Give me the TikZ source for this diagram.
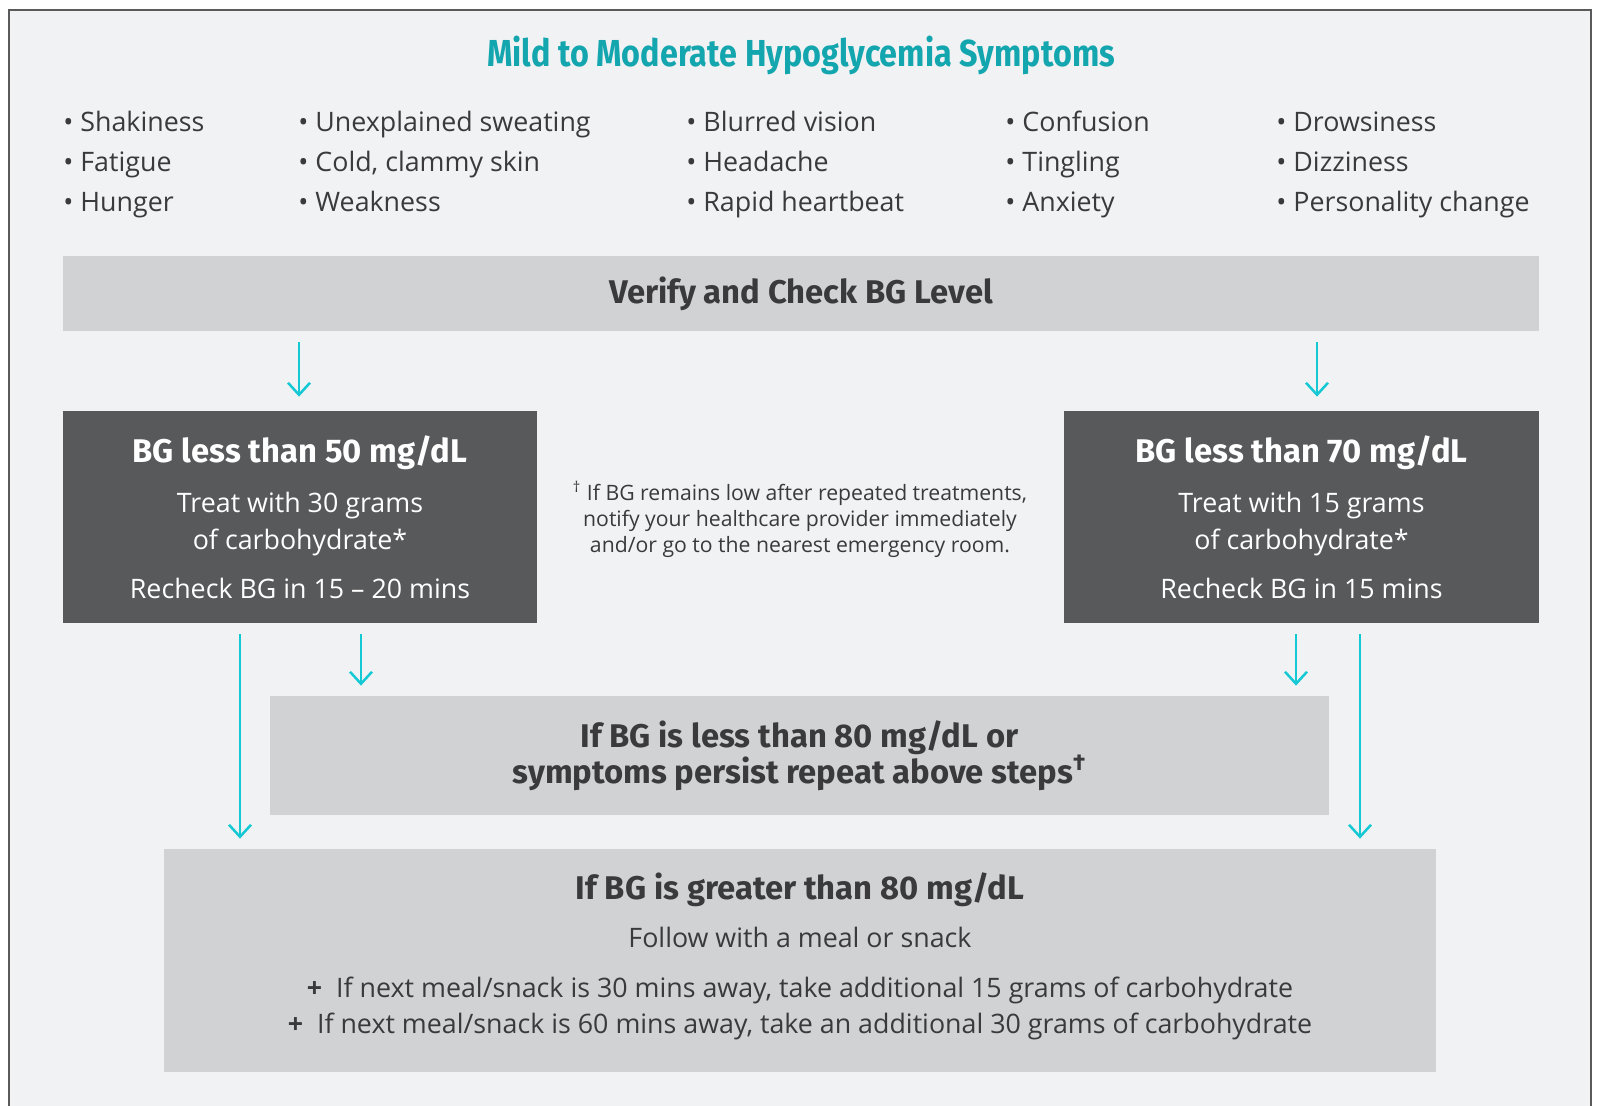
\documentclass[tikz,border=0pt]{standalone}
\usepackage{fontspec}
\setmainfont{Open Sans}
\newfontfamily\titrefont[FakeStretch=0.86]{Fira Sans}
\newfontfamily\grasfont{Fira Sans}
\usetikzlibrary{arrows.meta}

\definecolor{colorFond}{HTML}{F1F2F4}
\definecolor{colorGris}{HTML}{D1D2D4}
\definecolor{colorSombre}{HTML}{58595B}
\definecolor{colorTexte}{HTML}{3A3A3C}
\definecolor{colorFleche}{HTML}{14C8D4}
\definecolor{colorTitre}{HTML}{14A6AE}
\definecolor{colorCadre}{HTML}{5A5A5A}
\def\colorFond{colorFond}
\def\colorGris{colorGris}
\def\colorSombre{colorSombre}
\def\colorTexte{colorTexte}
\def\colorFleche{colorFleche}
\def\colorTitre{colorTitre}
\def\colorCadre{colorCadre}

\newcommand{\titregras}{\grasfont\bfseries\fontsize{16.4pt}{18pt}\selectfont}

\begin{document}
\begin{tikzpicture}[x = 0.5pt , y = -0.5pt ,
    boiteClaire/.style = {draw = none , fill = \colorGris , inner sep = 0pt , align = center , text = \colorTexte ,
        font = \fontsize{13.4pt}{18pt}\selectfont},
    boiteSombre/.style = {draw = none , fill = \colorSombre , inner sep = 0pt , align = center , text = white ,
        font = \fontsize{13.4pt}{18.5pt}\selectfont},
    liste/.style = {anchor = west , inner sep = 0pt , align = left , text = \colorTexte ,
        font = \fontsize{13.4pt}{20pt}\selectfont},
    fleche/.style = {line width = 1.25pt , color = \colorFleche , -{Straight Barb[length=6pt , width=11pt]} ,
        shorten <= 5.5pt , shorten >= 5pt}
]

    % Cadre
    \clip (0,0) rectangle (1598,1105);
    \fill[white] (0,0) rectangle (1598,1105);
    \draw[fill = \colorFond , draw = \colorCadre , line width = 0.75pt] (9,10) rectangle (1591,1120);

    % Titre
    \node[inner sep = 0pt , text = \colorTitre] (titre) at (801,55)
        {\titrefont\bfseries\fontsize{18.8pt}{20pt}\selectfont Mild to Moderate Hypoglycemia Symptoms};

    % Symptomes
    \node[liste] (colA) at (63,163) {\strut• Shakiness\\• Fatigue\\• Hunger\strut};
    \node[liste] (colB) at (298,163) {\strut• Unexplained sweating\\• Cold, clammy skin\\• Weakness\strut};
    \node[liste] (colC) at (686,163) {\strut• Blurred vision\\• Headache\\• Rapid heartbeat\strut};
    \node[liste] (colD) at (1005,163) {\strut• Confusion\\• Tingling\\• Anxiety\strut};
    \node[liste] (colE) at (1276,163) {\strut• Drowsiness\\• Dizziness\\• Personality change\strut};

    % Boites
    \node[boiteClaire , minimum width = 738pt , minimum height = 37.5pt] (verif) at (801,293.5)
        {\titregras Verify and Check BG Level};

    \node[boiteSombre , minimum width = 237pt , minimum height = 106pt] (basA) at (300,517)
        {{\titregras BG less than 50 mg/dL}\\[6.5pt]
        Treat with 30 grams\\
        of carbohydrate*\\[6pt]
        Recheck BG in 15 – 20 mins};

    \node[boiteSombre , minimum width = 237.5pt , minimum height = 106pt] (basB) at (1301.5,517)
        {{\titregras BG less than 70 mg/dL}\\[6.5pt]
        Treat with 15 grams\\
        of carbohydrate*\\[6pt]
        Recheck BG in 15 mins};

    \node[inner sep = 0pt , align = center , text = \colorTexte , font = \fontsize{10.6pt}{13pt}\selectfont] (note) at (800,519)
        {\textsuperscript{†} If BG remains low after repeated treatments,\\
        notify your healthcare provider immediately\\
        and/or go to the nearest emergency room.};

    \node[boiteClaire , minimum width = 529.5pt , minimum height = 59.5pt] (repete) at (799.5,755.5)
        {\titregras If BG is less than 80 mg/dL or\\
        \titregras symptoms persist repeat above steps\textsuperscript{†}};

    \node[boiteClaire , minimum width = 636pt , minimum height = 111.5pt] (haut) at (800,960.5)
        {{\titregras If BG is greater than 80 mg/dL}\\[6pt]
        Follow with a meal or snack\\[7pt]
        {\bfseries +}\ \ If next meal/snack is 30 mins away, take additional 15 grams of carbohydrate\\
        {\bfseries +}\ \ If next meal/snack is 60 mins away, take an additional 30 grams of carbohydrate\\[-11pt]
        \mbox{}};

    % Fleches
    \draw[fleche , shorten >= 7pt] (verif.south -| 299,0) -- (basA.north -| 299,0);
    \draw[fleche , shorten >= 7pt] (verif.south -| 1317,0) -- (basB.north -| 1317,0);
    \draw[fleche] (basA.south -| 240,0) -- (haut.north -| 240,0);
    \draw[fleche] (basA.south -| 361,0) -- (repete.north -| 361,0);
    \draw[fleche] (basB.south -| 1296,0) -- (repete.north -| 1296,0);
    \draw[fleche] (basB.south -| 1360,0) -- (haut.north -| 1360,0);

\end{tikzpicture}
\end{document}
